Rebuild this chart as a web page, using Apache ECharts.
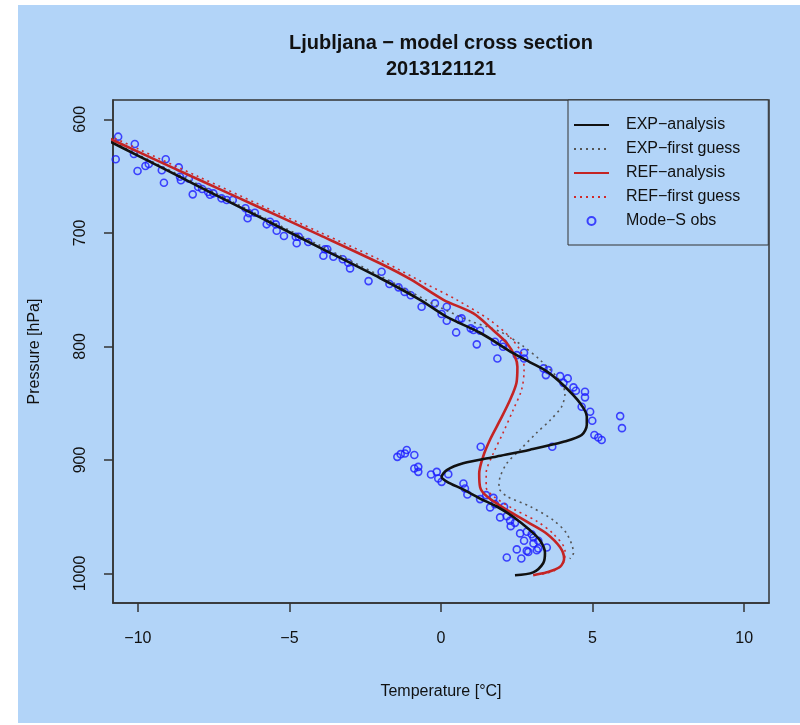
<!DOCTYPE html>
<html>
<head>
<meta charset="utf-8">
<script src="https://cdn.jsdelivr.net/npm/echarts@6/dist/echarts.min.js"></script>
<style>
  html, body { margin: 0; padding: 0; background: #fff; }
  #bg { position: absolute; left: 18px; top: 5px; width: 782px; height: 718px; background: #b2d4f8; }
  #main { position: absolute; left: 0; top: 0; width: 800px; height: 725px; }
</style>
</head>
<body>
<div id="bg"></div>
<div id="main"></div>
<script>
// temperature [°C], pressure [hPa]
var expAnalysis = [
  [-11.3, 614.5], [-10, 632], [-8, 659], [-6, 686], [-4, 713], [-2, 740], [-0.69, 759],
  [0.19, 774], [1.29, 788], [2.38, 806], [2.94, 814], [3.49, 822], [4.03, 834], [4.59, 850],
  [4.81, 862], [4.81, 869], [4.64, 878], [4.04, 884], [2.94, 891], [1.84, 897], [0.73, 903],
  [0.19, 909], [0.02, 915], [0.19, 919], [0.73, 926], [1.29, 934], [1.84, 941], [2.38, 950],
  [2.94, 962], [3.27, 971], [3.43, 982], [3.37, 991], [3.04, 999], [2.44, 1001.5]
];
var expFirstGuess = [
  [-11.3, 613.5], [-10, 631], [-8, 657.5], [-6, 684.5], [-4, 711], [-2, 738], [0, 766],
  [1.0, 778], [1.95, 787], [2.72, 800], [3.27, 812], [3.82, 827], [4.09, 841], [3.98, 853],
  [3.60, 865], [3.16, 876], [2.61, 891], [2.17, 903], [1.95, 915], [1.91, 924], [2.17, 932],
  [2.94, 941], [3.70, 953], [4.15, 965], [4.37, 982], [4.25, 987]
];
var refAnalysis = [
  [-11.3, 612.5], [-10, 628.5], [-8, 653], [-6, 677.5], [-4, 702], [-2, 727], [-1, 741],
  [0.08, 759], [1.07, 771], [1.73, 786], [2.17, 797], [2.44, 809], [2.52, 818], [2.49, 832],
  [2.28, 847], [1.95, 865], [1.62, 882], [1.39, 897], [1.26, 912], [1.29, 924], [1.51, 932],
  [2.17, 944], [2.94, 956], [3.49, 965], [3.93, 977], [4.06, 987], [3.93, 994], [3.49, 999],
  [3.04, 1001.5]
];
var refFirstGuess = [
  [-11.3, 610], [-10, 626], [-8, 650.5], [-6, 675], [-4, 699.5], [-2, 724], [-0.5, 745],
  [0.52, 759], [1.62, 777], [2.28, 792], [2.66, 806], [2.74, 821], [2.66, 838], [2.38, 856],
  [2.05, 876], [1.73, 894], [1.49, 912], [1.49, 924], [1.73, 932], [2.38, 943], [3.16, 954],
  [3.70, 965], [4.09, 980], [4.03, 991], [3.7, 998], [3.2, 1001]
];
var modeSObs = [
  [-10.65, 615.3], [-10.73, 635.2], [-10.10, 621.8], [-10.13, 630.6], [-10.01, 645.5],
  [-9.75, 641.1], [-9.64, 639.4], [-9.21, 644.9], [-9.08, 635.2], [-9.14, 655.9],
  [-8.65, 642.3], [-8.61, 650.6], [-8.58, 653.7], [-8.32, 652.3], [-8.19, 666.1],
  [-8.01, 659.6], [-7.88, 661.4], [-7.68, 664.0], [-7.62, 666.4], [-7.51, 665.2],
  [-7.24, 669.6], [-7.07, 671.1], [-6.87, 671.1], [-6.45, 678.4], [-6.38, 687.2],
  [-6.33, 682.8], [-6.14, 682.3], [-5.75, 692.5], [-5.64, 690.2], [-5.45, 692.5],
  [-5.42, 698.1], [-5.18, 702.8], [-4.79, 703.4], [-4.76, 709.2], [-4.69, 703.4],
  [-4.38, 708.1], [-3.88, 720.2], [-3.83, 714.5], [-3.75, 714.5], [-3.55, 721.0],
  [-3.24, 723.3], [-3.06, 726.3], [-3.00, 731.3], [-2.39, 742.5], [-1.96, 734.3],
  [-1.7, 745], [-1.4, 748], [-1.2, 752], [-1.0, 755],
  [-0.64, 765.1], [-0.20, 762.1], [0.19, 765.1], [0.02, 771.5], [0.19, 777.4],
  [0.50, 787.7], [0.60, 776.2], [0.68, 775.3], [0.98, 784.1], [1.07, 785.6],
  [1.29, 786.2], [1.18, 798.2], [1.78, 795.9], [2.06, 797.3], [1.86, 810.6],
  [2.05, 800.3], [2.50, 807.7], [2.74, 805.6], [2.74, 810.6], [3.38, 819.4],
  [3.54, 820.9], [3.46, 825.3], [3.93, 826.2], [4.18, 828.2], [4.04, 832.1],
  [4.37, 836.1], [4.45, 839.1], [4.75, 840.0], [4.75, 844.9], [4.64, 853.2],
  [4.92, 857.6], [4.99, 865.5], [5.06, 878.1], [5.19, 880.2], [5.30, 882.5],
  [5.91, 861.4], [5.97, 872.0],
  [3.67, 888.4], [1.31, 888.4], [-1.44, 897.3], [-1.33, 894.9], [-1.19, 894.3],
  [-1.13, 891.3], [-0.88, 895.7], [-0.88, 907.5], [-0.75, 906.1], [-0.75, 910.5],
  [-0.33, 912.8], [-0.14, 910.5], [-0.09, 916.3], [0.02, 919.3], [0.24, 912.5],
  [0.74, 920.7], [0.79, 925.1], [0.87, 930.4], [1.29, 934.5], [1.49, 931.0],
  [1.73, 933.4], [1.62, 941.8], [1.78, 938.9], [2.08, 941.3], [1.95, 950.6],
  [2.17, 949.5], [2.28, 953.6], [2.44, 955.4], [2.30, 958.3], [2.61, 964.7],
  [2.83, 963.3], [2.99, 965.4], [3.21, 971.2], [2.74, 971.2], [3.05, 968.3],
  [3.49, 977.1], [2.50, 978.8], [2.83, 980.1], [2.88, 981.0], [3.16, 979.5],
  [2.17, 985.9], [2.65, 986.8], [3.05, 973.5], [3.21, 978.0]
];
var xTicks = [-10, -5, 0, 5, 10];
var yTicks = [600, 700, 800, 900, 1000];

var font = 'Liberation Sans';
var minus = function (v) { return String(v).replace('-', '\u2212'); };
var plain = function (v) { return String(v); };

var chart = echarts.init(document.getElementById('main'), null, { renderer: 'canvas' });
var noDot = { opacity: 0 };
var option = {
    backgroundColor: 'transparent',
    animation: false,
    title: {
        text: 'Ljubljana \u2212 model cross section\n2013121121',
        left: 441,
        textAlign: 'center',
        top: 30,
        padding: 0,
        textStyle: { fontFamily: font, fontSize: 20, fontWeight: 'bold', color: '#111', lineHeight: 26 }
    },
    legend: {
        orient: 'vertical',
        left: 568,
        top: 100,
        padding: [17, 28, 16, 5],
        itemWidth: 35,
        itemHeight: 8,
        itemGap: 8,
        borderColor: '#333',
        borderWidth: 1,
        backgroundColor: '#b2d4f8',
        textStyle: { fontFamily: font, fontSize: 16, color: '#111', padding: [0, 0, 0, 12] },
        data: [
            { name: 'EXP\u2212analysis', itemStyle: noDot },
            { name: 'EXP\u2212first guess', itemStyle: noDot },
            { name: 'REF\u2212analysis', itemStyle: noDot },
            { name: 'REF\u2212first guess', itemStyle: noDot },
            { name: 'Mode\u2212S obs' }
        ]
    },
    grid: {
        left: 113, right: 31, top: 100, bottom: 122,
        show: true, borderColor: '#333', borderWidth: 1.5, backgroundColor: 'transparent'
    },
    xAxis: {
        type: 'value',
        min: -10.82, max: 10.82,
        name: 'Temperature [\u00b0C]',
        nameLocation: 'middle',
        nameGap: 81,
        nameTextStyle: { fontFamily: font, fontSize: 16, color: '#111' },
        axisLine: { show: true, onZero: false, lineStyle: { color: '#333', width: 1.5 } },
        axisTick: { show: true, inside: false, length: 9, customValues: xTicks, lineStyle: { color: '#333', width: 1.5 } },
        axisLabel: { customValues: xTicks, margin: 28, fontFamily: font, fontSize: 16, color: '#111', formatter: minus },
        splitLine: { show: false }
    },
    yAxis: {
        type: 'value',
        inverse: true,
        min: 583, max: 1026,
        name: 'Pressure [hPa]',
        nameLocation: 'middle',
        nameGap: 70,
        nameTextStyle: { fontFamily: font, fontSize: 16, color: '#111' },
        axisLine: { show: true, onZero: false, lineStyle: { color: '#333', width: 1.5 } },
        axisTick: { show: true, inside: false, length: 9, customValues: yTicks, lineStyle: { color: '#333', width: 1.5 } },
        axisLabel: { customValues: yTicks, rotate: 90, margin: 24, fontFamily: font, fontSize: 16, color: '#111', formatter: plain },
        splitLine: { show: false }
    },
    series: [
        {
            name: 'Mode\u2212S obs',
            type: 'scatter',
            data: modeSObs,
            symbol: 'circle',
            symbolSize: 7,
            itemStyle: { color: 'transparent', borderColor: '#1b1bff', borderWidth: 1.6 },
            z: 1
        },
        {
            name: 'EXP\u2212first guess',
            type: 'line',
            data: expFirstGuess,
            smooth: 0.3,
            showSymbol: false,
            symbol: 'none',
            lineStyle: { color: '#555', width: 1.6, type: [2, 4] },
            itemStyle: { color: '#555' },
            z: 2
        },
        {
            name: 'REF\u2212first guess',
            type: 'line',
            data: refFirstGuess,
            smooth: 0.3,
            showSymbol: false,
            symbol: 'none',
            lineStyle: { color: '#d02a2a', width: 1.6, type: [2, 4] },
            itemStyle: { color: '#d02a2a' },
            z: 2
        },
        {
            name: 'REF\u2212analysis',
            type: 'line',
            data: refAnalysis,
            smooth: 0.3,
            showSymbol: false,
            symbol: 'none',
            lineStyle: { color: '#c42424', width: 2.6 },
            itemStyle: { color: '#c42424' },
            z: 3
        },
        {
            name: 'EXP\u2212analysis',
            type: 'line',
            data: expAnalysis,
            smooth: 0.3,
            showSymbol: false,
            symbol: 'none',
            lineStyle: { color: '#111', width: 2.6 },
            itemStyle: { color: '#111' },
            z: 4
        }
    ]
};
chart.setOption(option);
</script>
</body>
</html>
